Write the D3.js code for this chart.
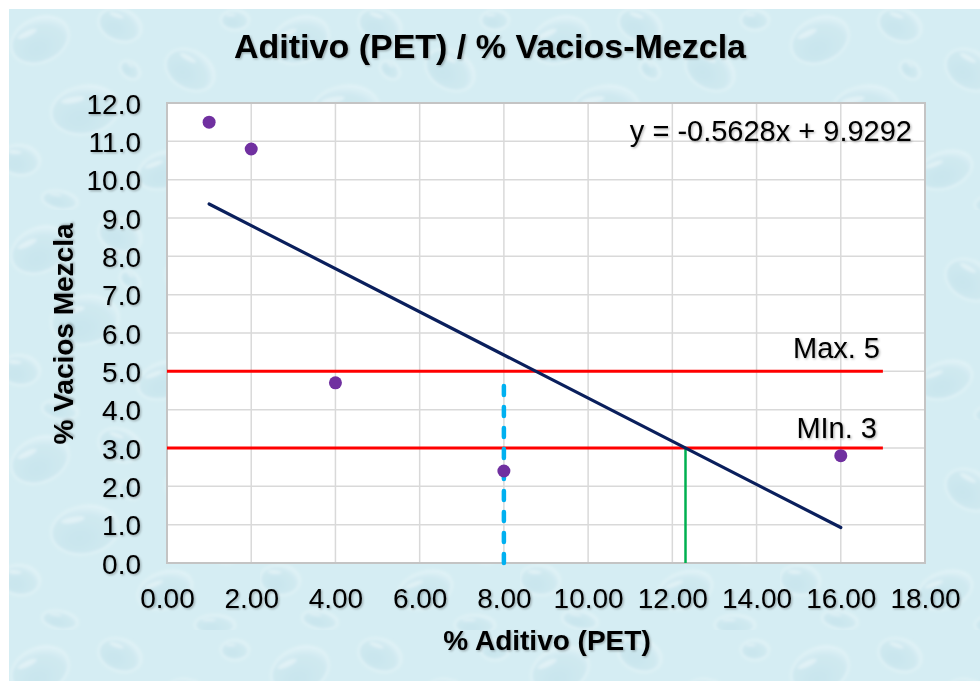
<!DOCTYPE html>
<html>
<head>
<meta charset="utf-8">
<script src="https://cdn.jsdelivr.net/npm/d3@7"></script>
<style>
  html, body { margin: 0; padding: 0; background: #ffffff; }
  svg { display: block; font-family: "Liberation Sans", Arial, sans-serif; }
</style>
</head>
<body>
<svg id="chart" width="980" height="681"></svg>
<script>
// Mix data: % PET additive vs % air voids
const aditivo = [1, 2, 4, 8, 16];
const vacios = [11.5, 10.8, 4.7, 2.4, 2.8];

// Axis ticks
const xTicks = [0, 2, 4, 6, 8, 10, 12, 14, 16, 18];
const yTicks = [0, 1, 2, 3, 4, 5, 6, 7, 8, 9, 10, 11, 12];

// Specification limits for voids
const limitValues = [5, 3];
const limitLabels = ["Max. 5", "MIn. 3"];
const limitEnd = 17;

// Chosen additive content (dashed marker)
const designAditivo = 8;

const titleText = "Aditivo (PET) / % Vacios-Mezcla";
const xTitle = "% Aditivo (PET)";
const yTitle = "% Vacios Mezcla";

// Least-squares fit of the points
const mx = d3.mean(aditivo), my = d3.mean(vacios);
const sxy = d3.sum(aditivo, (v, i) => (v - mx) * (vacios[i] - my));
const sxx = d3.sum(aditivo, v => (v - mx) * (v - mx));
const slope = sxy / sxx;
const intercept = my - slope * mx;
const trend = v => slope * v + intercept;
const xAtMin = (limitValues[1] - intercept) / slope;

const svg = d3.select("#chart");
const W = 980, H = 681;
const plot = { left: 167, top: 103, right: 925, bottom: 563 };

const x = d3.scaleLinear().domain([0, 18]).range([plot.left, plot.right]);
const y = d3.scaleLinear().domain([0, 12]).range([plot.bottom, plot.top]);

const defs = svg.append("defs");

// Text shadow
const sh = defs.append("filter").attr("id", "tshadow")
  .attr("x", "-10%").attr("y", "-20%").attr("width", "130%").attr("height", "160%");
sh.append("feDropShadow").attr("dx", 1.2).attr("dy", 1.2).attr("stdDeviation", 0.9)
  .attr("flood-color", "#000").attr("flood-opacity", 0.3);

// Soft blur for the backdrop drops
const bl = defs.append("filter").attr("id", "soft");
bl.append("feGaussianBlur").attr("stdDeviation", 1.6);

// Water-drop backdrop pattern
const drop = defs.append("radialGradient").attr("id", "drop")
  .attr("cx", "40%").attr("cy", "65%").attr("r", "65%");
drop.append("stop").attr("offset", "0%").attr("stop-color", "#b9dde7");
drop.append("stop").attr("offset", "75%").attr("stop-color", "#c8e5ed");
drop.append("stop").attr("offset", "100%").attr("stop-color", "#e6f5f8");

const pat = defs.append("pattern").attr("id", "water")
  .attr("patternUnits", "userSpaceOnUse").attr("width", 260).attr("height", 210);
pat.append("rect").attr("width", 260).attr("height", 210).attr("fill", "#d4edf2");
const drops = [
  [40, 40, 30, 22, -25], [120, 25, 22, 16, 20], [85, 110, 34, 24, -10],
  [190, 70, 26, 19, 30], [20, 160, 20, 15, 5], [165, 170, 28, 18, -20],
  [235, 20, 14, 10, 0], [130, 70, 11, 8, 40], [230, 130, 16, 12, -35],
  [60, 200, 18, 9, 10], [215, 205, 20, 10, 0]
];
const dg = pat.append("g").attr("filter", "url(#soft)");
drops.forEach(([cx, cy, rx, ry, a]) => {
  const g = dg.append("g").attr("transform", `translate(${cx},${cy}) rotate(${a})`);
  g.append("ellipse").attr("rx", rx).attr("ry", ry).attr("fill", "url(#drop)")
    .attr("stroke", "#eef9fb").attr("stroke-width", 2).attr("opacity", 0.85);
  g.append("ellipse").attr("cx", -rx * 0.3).attr("cy", -ry * 0.5)
    .attr("rx", rx * 0.35).attr("ry", ry * 0.13).attr("fill", "#ffffff").attr("opacity", 0.6);
});

svg.append("rect").attr("x", 9).attr("y", 9).attr("width", W - 9).attr("height", H - 9)
  .attr("fill", "url(#water)");
svg.append("rect").attr("x", 9).attr("y", 9).attr("width", W - 9).attr("height", H - 9)
  .attr("fill", "#d6eef3").attr("opacity", 0.45);

// Plot area
svg.append("rect")
  .attr("x", plot.left).attr("y", plot.top)
  .attr("width", plot.right - plot.left).attr("height", plot.bottom - plot.top)
  .attr("fill", "#ffffff");

// Gridlines
const grid = svg.append("g");
grid.selectAll("line.v").data(xTicks).join("line").attr("class", "v")
  .attr("x1", d => x(d)).attr("x2", d => x(d))
  .attr("y1", plot.top).attr("y2", plot.bottom)
  .attr("stroke", "#d9d9d9").attr("stroke-width", 1.5);
grid.selectAll("line.h").data(yTicks).join("line").attr("class", "h")
  .attr("x1", plot.left).attr("x2", plot.right)
  .attr("y1", d => y(d)).attr("y2", d => y(d))
  .attr("stroke", "#d9d9d9").attr("stroke-width", 1.5);

svg.append("rect")
  .attr("x", plot.left).attr("y", plot.top)
  .attr("width", plot.right - plot.left).attr("height", plot.bottom - plot.top)
  .attr("fill", "none").attr("stroke", "#c4c4c4").attr("stroke-width", 2);

// Axes (labels only, as in a spreadsheet chart)
const xAxis = svg.append("g").attr("transform", `translate(0,${plot.bottom})`)
  .call(d3.axisBottom(x).tickValues(xTicks).tickFormat(d3.format(".2f")).tickSize(0).tickPadding(0));
xAxis.select(".domain").remove();
xAxis.selectAll("text").attr("y", 45).attr("dy", null)
  .attr("font-size", 28).attr("fill", "#000").attr("font-family", "Liberation Sans, Arial, sans-serif")
  .attr("filter", "url(#tshadow)");

const yAxis = svg.append("g").attr("transform", `translate(${plot.left},0)`)
  .call(d3.axisLeft(y).tickValues(yTicks).tickFormat(d3.format(".1f")).tickSize(0).tickPadding(0));
yAxis.select(".domain").remove();
yAxis.selectAll("text").attr("x", -26).attr("dy", 10)
  .attr("font-size", 28).attr("fill", "#000").attr("font-family", "Liberation Sans, Arial, sans-serif")
  .attr("filter", "url(#tshadow)");

// Limit lines
svg.selectAll("line.limit").data(limitValues).join("line").attr("class", "limit")
  .attr("x1", x(0)).attr("x2", x(limitEnd))
  .attr("y1", d => y(d)).attr("y2", d => y(d))
  .attr("stroke", "#ff0000").attr("stroke-width", 3);

// Dashed marker at the chosen additive content
svg.append("line")
  .attr("x1", x(designAditivo)).attr("x2", x(designAditivo))
  .attr("y1", y(0)).attr("y2", y(limitValues[0]) + 6)
  .attr("stroke", "#00b0f0").attr("stroke-width", 4.5)
  .attr("stroke-linecap", "round").attr("stroke-dasharray", "9,12");

// Where the fit reaches the minimum
svg.append("line")
  .attr("x1", x(xAtMin)).attr("x2", x(xAtMin))
  .attr("y1", y(limitValues[1])).attr("y2", y(0))
  .attr("stroke", "#00b050").attr("stroke-width", 2.5);

// Trend line across the data range
const xr = d3.extent(aditivo);
svg.append("line")
  .attr("x1", x(xr[0])).attr("y1", y(trend(xr[0])))
  .attr("x2", x(xr[1])).attr("y2", y(trend(xr[1])))
  .attr("stroke", "#0a1f5c").attr("stroke-width", 3.2).attr("stroke-linecap", "round");

// Points
svg.selectAll("circle.pt").data(aditivo).join("circle").attr("class", "pt")
  .attr("cx", d => x(d)).attr("cy", (d, i) => y(vacios[i]))
  .attr("r", 6.5).attr("fill", "#7030a0");

// Texts
const txt = (s, px, py, size, weight, anchor) =>
  svg.append("text").attr("x", px).attr("y", py).text(s)
    .attr("font-size", size).attr("font-weight", weight)
    .attr("text-anchor", anchor).attr("fill", "#000")
    .attr("filter", "url(#tshadow)");

txt(titleText, 490, 58, 34, "bold", "middle");
txt(xTitle, 547, 650, 28, "bold", "middle");
svg.append("text").attr("transform", "translate(73,334) rotate(-90)")
  .text(yTitle).attr("font-size", 28).attr("font-weight", "bold")
  .attr("text-anchor", "middle").attr("fill", "#000").attr("filter", "url(#tshadow)");

const f4 = v => d3.format(".4f")(v).replace("\u2212", "-");
const eq = `y = ${f4(slope)}x + ${f4(intercept)}`;
txt(eq, 912, 141, 29, "normal", "end");

txt(limitLabels[0], 880, 358, 29, "normal", "end");
txt(limitLabels[1], 877, 438, 29, "normal", "end");
</script>
</body>
</html>
